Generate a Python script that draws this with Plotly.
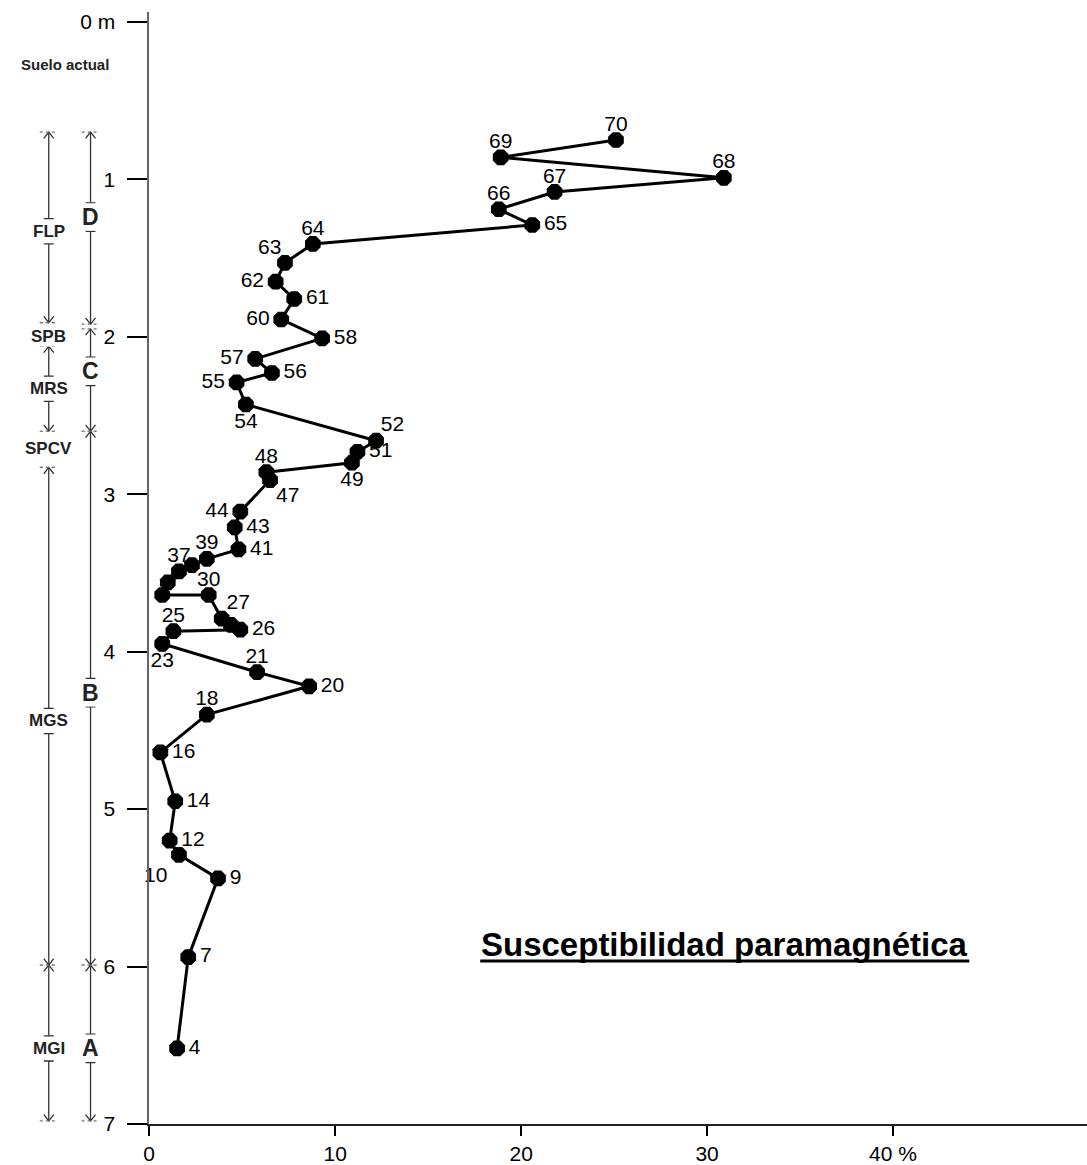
import plotly.graph_objects as go

# ---- Susceptibility profile: sample number, value (%) and depth (m) ----
sample_labels = ["70", "69", "68", "67", "66", "65", "64", "63", "62", "61",
                 "60", "58", "57", "56", "55", "54", "52", "51", "49", "48",
                 "47", "44", "43", "41", "39", "", "37", "", "", "30",
                 "27", "", "26", "25", "23", "21", "20", "18", "16", "14",
                 "12", "10", "9", "7", "4"]
susceptibility = [25.1, 18.9, 30.9, 21.8, 18.8, 20.6, 8.8, 7.3, 6.8, 7.8,
                  7.1, 9.3, 5.7, 6.6, 4.7, 5.2, 12.2, 11.2, 10.9, 6.3,
                  6.5, 4.9, 4.6, 4.8, 3.1, 2.3, 1.6, 1.0, 0.7, 3.2,
                  3.9, 4.4, 4.9, 1.3, 0.7, 5.8, 8.6, 3.1, 0.6, 1.4,
                  1.1, 1.6, 3.7, 2.1, 1.5]
depth = [0.75, 0.86, 0.99, 1.08, 1.19, 1.29, 1.41, 1.53, 1.65, 1.76,
         1.89, 2.01, 2.14, 2.23, 2.29, 2.43, 2.66, 2.73, 2.80, 2.86,
         2.91, 3.11, 3.21, 3.35, 3.41, 3.45, 3.49, 3.56, 3.64, 3.64,
         3.79, 3.83, 3.86, 3.87, 3.95, 4.13, 4.22, 4.40, 4.64, 4.95,
         5.20, 5.29, 5.44, 5.94, 6.52]
label_positions = ["top center", "top center", "top center", "top center", "top center",
                   "middle right", "top center", "top left", "middle left", "middle right",
                   "middle left", "middle right", "middle left", "middle right", "middle left",
                   "bottom center", "top right", "middle right", "bottom center", "top center",
                   "bottom right", "middle left", "middle right", "middle right", "top center",
                   "middle right", "top center", "middle right", "middle right", "top center",
                   "top right", "middle right", "middle right", "top center", "bottom center",
                   "top center", "middle right", "top center", "middle right", "middle right",
                   "middle right", "bottom left", "middle right", "middle right", "middle right"]

# ---- Axis ticks ----
x_tickvals = [0, 10, 20, 30, 40]
x_ticktext = ["0", "10", "20", "30", "40 %"]
y_tickvals = [0, 1, 2, 3, 4, 5, 6, 7]
y_ticktext = ["0 m", "1", "2", "3", "4", "5", "6", "7"]

# ---- Stratigraphic units (two columns) ----
unit1_names = ["FLP", "SPB", "MRS", "SPCV", "MGS", "MGI"]
unit1_tops = [0.70, 1.91, 2.06, 2.60, 2.83, 5.99]
unit1_bottoms = [1.91, 2.06, 2.60, 2.83, 5.99, 6.98]
unit1_label_depth = [1.33, 2.00, 2.33, 2.71, 4.44, 6.52]

unit2_names = ["D", "C", "B", "A"]
unit2_tops = [0.70, 1.95, 2.60, 5.99]
unit2_bottoms = [1.92, 2.60, 5.99, 6.98]
unit2_label_depth = [1.24, 2.22, 4.26, 6.52]

surface_label = "Suelo actual"
surface_depth = 0.27
title_text = "Susceptibilidad paramagnética"

W, H = 1087, 1165
LEFT = 144            # width of the strip holding the unit columns
X_MAX = 50.43
FONT = "Liberation Sans, Arial, sans-serif"

# distance of a sample label from its point depends on where it sits
LABEL_GAP = {"top center": 5, "top right": 6, "top left": 4,
             "bottom center": 10, "bottom right": 8, "bottom left": 17,
             "middle right": 17, "middle left": 17}

fig = go.Figure()

# profile line with its samples
fig.add_trace(go.Scatter(
    x=susceptibility, y=depth, mode="lines+markers",
    line=dict(color="black", width=3),
    marker=dict(symbol="octagon", size=17, color="black", line=dict(width=0)),
    hoverinfo="skip", xaxis="x", yaxis="y",
))
# sample numbers (transparent anchors only set the label offset)
fig.add_trace(go.Scatter(
    x=susceptibility, y=depth, mode="markers+text",
    text=sample_labels, textposition=label_positions,
    textfont=dict(family=FONT, size=21, color="black"),
    marker=dict(size=[LABEL_GAP[p] for p in label_positions],
                color="rgba(0,0,0,0)", opacity=0, line=dict(width=0)),
    cliponaxis=False, hoverinfo="skip", xaxis="x", yaxis="y",
))


def unit_column(xc, tops, bottoms, mids, half_gap):
    """Vertical range brackets with arrow heads and label gaps."""
    xs, ys = [], []
    dash_x, dash_y = [], []
    ah, aw, bw = 0.04, 5, 5

    def seg(pts):
        for px, py in pts:
            xs.append(px)
            ys.append(py)
        xs.append(None)
        ys.append(None)

    for top, bot, mid in zip(tops, bottoms, mids):
        if bot - top > 2 * half_gap + 0.1:
            seg([(xc, top), (xc, mid - half_gap)])
            seg([(xc, mid + half_gap), (xc, bot)])
            seg([(xc - bw, mid - half_gap), (xc + bw, mid - half_gap)])
            seg([(xc - bw, mid + half_gap), (xc + bw, mid + half_gap)])
            seg([(xc - aw, top + ah), (xc, top), (xc + aw, top + ah)])
            seg([(xc - aw, bot - ah), (xc, bot), (xc + aw, bot - ah)])
        for b in (top, bot):
            dash_x += [xc - 9, xc + 9, None]
            dash_y += [b, b, None]
    return xs, ys, dash_x, dash_y


for xc, tops, bottoms, mids, hg in [
    (43, unit1_tops, unit1_bottoms, unit1_label_depth, 0.08),
    (85, unit2_tops, unit2_bottoms, unit2_label_depth, 0.09),
]:
    xs, ys, dx, dy = unit_column(xc, tops, bottoms, mids, hg)
    fig.add_trace(go.Scatter(x=xs, y=ys, mode="lines",
                             line=dict(color="#333333", width=1.3),
                             hoverinfo="skip", xaxis="x2", yaxis="y"))
    fig.add_trace(go.Scatter(x=dx, y=dy, mode="lines",
                             line=dict(color="#777777", width=1.2, dash="dot"),
                             hoverinfo="skip", xaxis="x2", yaxis="y"))

annotations = []
for name, d in zip(unit1_names, unit1_label_depth):
    annotations.append(dict(x=43, y=d, xref="x2", yref="y", text=f"<b>{name}</b>",
                            showarrow=False, font=dict(family=FONT, size=17, color="#222222"),
                            bgcolor="white", borderpad=0))
for name, d in zip(unit2_names, unit2_label_depth):
    annotations.append(dict(x=85, y=d, xref="x2", yref="y", text=f"<b>{name}</b>",
                            showarrow=False, font=dict(family=FONT, size=23, color="#222222"),
                            bgcolor="white", borderpad=0))
annotations.append(dict(x=59, y=surface_depth, xref="x2", yref="y",
                        text=f"<b>{surface_label}</b>", showarrow=False,
                        font=dict(family=FONT, size=15, color="#222222")))
annotations.append(dict(x=30.93, y=5.86, xref="x", yref="y", text=f"<b>{title_text}</b>",
                        showarrow=False, xanchor="center", yanchor="middle",
                        font=dict(family=FONT, size=33, color="black")))

fig.update_layout(
    width=W, height=H,
    margin=dict(l=0, r=0, t=12, b=38),
    paper_bgcolor="white", plot_bgcolor="white",
    showlegend=False,
    font=dict(family=FONT, size=21, color="black"),
    xaxis=dict(domain=[LEFT / W, 1], range=[0, X_MAX], anchor="y",
               tickvals=x_tickvals, ticktext=x_ticktext,
               ticks="outside", ticklen=10, tickwidth=1.5, tickcolor="black",
               showline=True, linewidth=2, linecolor="#222222",
               showgrid=False, zeroline=False,
               tickfont=dict(family=FONT, size=21, color="black")),
    xaxis2=dict(domain=[0, LEFT / W], range=[0, LEFT], anchor="y", visible=False),
    yaxis=dict(range=[7, -0.063], anchor="x",
               tickvals=y_tickvals, ticktext=y_ticktext,
               ticks="outside", ticklen=20, tickwidth=1.5, tickcolor="black",
               showline=True, linewidth=1.5, linecolor="#666666",
               showgrid=False, zeroline=False, ticklabelstandoff=8,
               tickfont=dict(family=FONT, size=21, color="black")),
    annotations=annotations,
    shapes=[dict(type="line", xref="x", yref="y", x0=17.8, x1=44.1, y0=5.965, y1=5.965,
                 line=dict(color="black", width=3))],
)

fig.write_html("out.html")
